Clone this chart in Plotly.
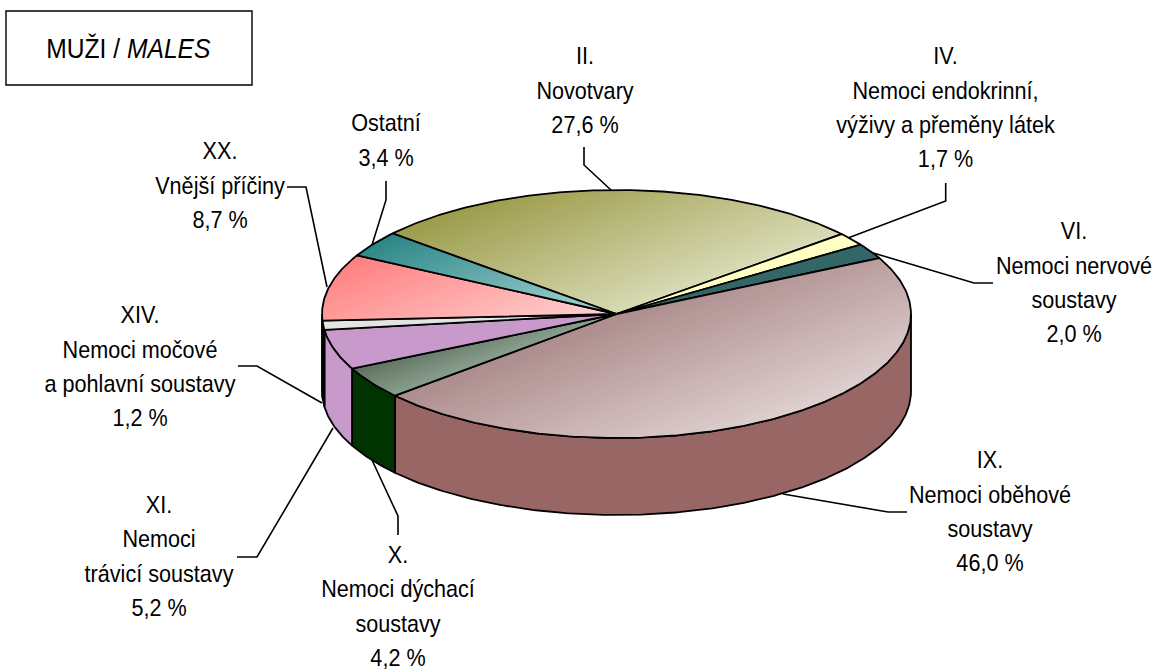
import numpy as np
import plotly.graph_objects as go

# --- data -----------------------------------------------------------------
categories = ["II.", "IV.", "VI.", "IX.", "X.", "XI.", "XIV.", "XX.", "Ostatní"]
values = [27.6, 1.7, 2.0, 46.0, 4.2, 5.2, 1.2, 8.7, 3.4]
label_lines = [
    ["II.", "Novotvary", "27,6 %"],
    ["IV.", "Nemoci endokrinní,", "výživy a přeměny látek", "1,7 %"],
    ["VI.", "Nemoci nervové", "soustavy", "2,0 %"],
    ["IX.", "Nemoci oběhové", "soustavy", "46,0 %"],
    ["X.", "Nemoci dýchací", "soustavy", "4,2 %"],
    ["XI.", "Nemoci", "trávicí soustavy", "5,2 %"],
    ["XIV.", "Nemoci močové", "a pohlavní soustavy", "1,2 %"],
    ["XX.", "Vnější příčiny", "8,7 %"],
    ["Ostatní", "3,4 %"],
]

# --- style / layout -------------------------------------------------------
top_colors = [
    ("#9d9d4c", "#d9dbb6"), ("#ffffc4", "#ffffc4"), ("#336666", "#336666"),
    ("#ae8e8e", "#dfcfcf"), ("#5f705f", "#8aa08f"), ("#c899cb", "#c899cb"),
    ("#e4e4e4", "#e4e4e4"), ("#ff8080", "#ffd2d2"), ("#2d8787", "#a9d6d6"),
]
side_colors = ["#9c9c4a", "#e0e0a0", "#2a5555", "#996666", "#003300",
               "#c899cb", "#000000", "#000000", "#2d8787"]
label_x = [585, 945.5, 1074, 990, 398, 159, 140, 220, 386]
label_y0 = [58.5, 58.5, 233.5, 462.5, 557, 507, 317.5, 153.5, 125.5]
line_step = 34.3
leaders = [
    ([584, 584, 611], [147, 165, 190]),
    ([945.7, 945.7, 848], [183, 201, 238]),
    ([993, 974, 870], [283, 283, 252]),
    ([907, 888, 783], [512, 512, 494]),
    ([398, 398, 372], [535, 516, 460]),
    ([237, 257, 333], [557, 557, 428]),
    ([238, 257, 322], [366, 366, 403]),
    ([287, 306, 327], [187, 187, 287]),
    ([386, 386, 372], [181, 200, 245]),
]
FONT = "Liberation Sans"
CX, CY, RX, RY, DEPTH = 616.5, 314.0, 294.5, 124.0, 77.0
START_DEG = 139.5
LW = 1.8
GRAD_DIR = np.array([0.35, 0.94])
N_BANDS = 36


def arc(t1, t2, dy=0.0):
    n = max(3, int(abs(t2 - t1) * 1.5))
    t = np.radians(np.linspace(t1, t2, n))
    return CX + RX * np.cos(t), CY - RY * np.sin(t) + dy


def hex_rgb(h):
    return np.array([int(h[k:k + 2], 16) for k in (1, 3, 5)], float)


def clip_halfplane(px, py, level):
    """polygon part where the gradient coordinate is >= level"""
    d = px * GRAD_DIR[0] + py * GRAD_DIR[1] - level
    ox, oy = [], []
    n = len(px)
    for k in range(n):
        j = (k + 1) % n
        if d[k] >= 0:
            ox.append(px[k]); oy.append(py[k])
        if (d[k] >= 0) != (d[j] >= 0):
            s = d[k] / (d[k] - d[j])
            ox.append(px[k] + s * (px[j] - px[k])); oy.append(py[k] + s * (py[j] - py[k]))
    return ox, oy


fig = go.Figure()

for (lx, ly) in leaders:
    fig.add_trace(go.Scatter(x=lx, y=ly, mode="lines", line=dict(color="black", width=1.6),
                             hoverinfo="skip"))

# slice boundaries, clockwise, from the values
frac = np.array(values) / sum(values)
edges = START_DEG - 360.0 * np.concatenate([[0], np.cumsum(frac)])

# walls (only the front half, t between -180 and 0)
for i in [3, 4, 5, 6, 7]:
    a, b = edges[i], edges[i + 1]
    a2, b2 = min(a, 0), max(b, -180)
    if a2 <= b2:
        continue
    x1, y1 = arc(a2, b2)
    x2, y2 = arc(b2, a2, DEPTH)
    fig.add_trace(go.Scatter(x=np.r_[x1, x2, x1[0]], y=np.r_[y1, y2, y1[0]], mode="lines",
                             fill="toself", fillcolor=side_colors[i],
                             line=dict(color="black", width=LW), hoverinfo="skip"))

# top faces: painted as overlapping bands so the shading runs on a slant
for i in range(len(values)):
    ax, ay = arc(edges[i], edges[i + 1])
    px, py = np.r_[CX, ax], np.r_[CY, ay]
    c0, c1 = map(hex_rgb, top_colors[i])
    d = px * GRAD_DIR[0] + py * GRAD_DIR[1]
    lo, hi = d.min(), d.max()
    bands = N_BANDS if top_colors[i][0] != top_colors[i][1] else 1
    for k in range(bands):
        f = k / max(bands - 1, 1)
        col = c0 + (c1 - c0) * f
        ox, oy = clip_halfplane(px, py, lo + (hi - lo) * k / bands)
        if len(ox) < 3:
            continue
        fig.add_trace(go.Scatter(
            x=ox + ox[:1], y=oy + oy[:1], mode="none", fill="toself",
            fillcolor="rgb(%d,%d,%d)" % tuple(col), name=categories[i], hoverinfo="skip"))
    fig.add_trace(go.Scatter(
        x=np.r_[px, CX], y=np.r_[py, CY], mode="lines",
        line=dict(color="black", width=LW), name=categories[i], hoverinfo="skip"))

# labels
tx, ty, tt = [], [], []
for lines, x0, y0 in zip(label_lines, label_x, label_y0):
    for k, s in enumerate(lines):
        tx.append(x0)
        ty.append(y0 + k * line_step)
        tt.append(s)
fig.add_trace(go.Scatter(x=tx, y=ty, text=tt, mode="text", textposition="middle center",
                         cliponaxis=False,
                         textfont=dict(family=FONT, size=24, color="black"), hoverinfo="skip"))

fig.add_shape(type="rect", x0=6, y0=11, x1=252, y1=85, line=dict(color="black", width=1.4),
              fillcolor="white")
fig.add_annotation(x=128.5, y=48, text="MUŽI / <i>MALES</i>", showarrow=False,
                   font=dict(family=FONT, size=28, color="black"))

fig.update_layout(
    width=1157, height=671, margin=dict(l=0, r=0, t=0, b=0), showlegend=False,
    paper_bgcolor="white", plot_bgcolor="white",
    xaxis=dict(range=[0, 1157], visible=False, fixedrange=True),
    yaxis=dict(range=[671, 0], visible=False, fixedrange=True),
)
narrow_js = """
document.body.style.margin='0';
function narrow(sel, k){document.querySelectorAll(sel).forEach(function(el){
  el.style.transformBox='fill-box'; el.style.transformOrigin='center';
  el.style.transform='scaleX('+k+')';});}
narrow('.textpoint text', 0.9);
narrow('.annotation-text', 0.88);
"""
fig.write_html("out.html", post_script=narrow_js, config={"displayModeBar": False})
